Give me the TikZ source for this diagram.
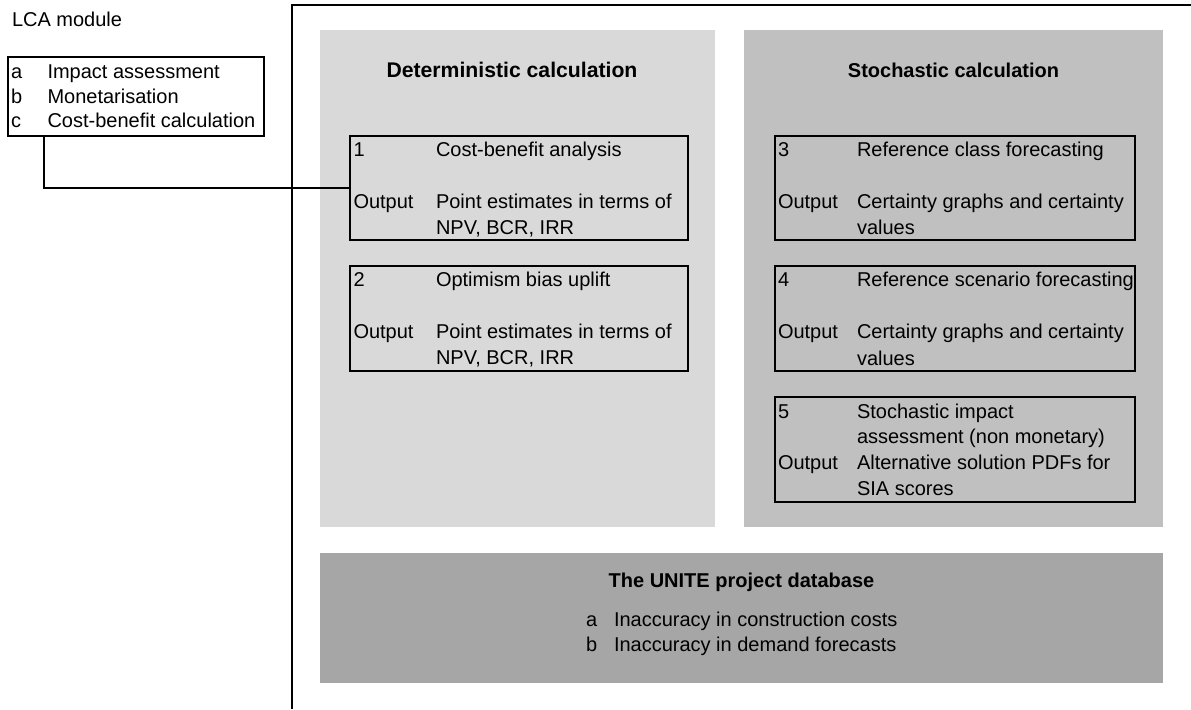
\documentclass[tikz,border=0pt]{standalone}
\usepackage{fontspec}
\setmainfont{Liberation Sans}
\usetikzlibrary{calc}
\definecolor{detfill}{HTML}{D9D9D9}
\definecolor{stofill}{HTML}{C0C0C0}
\definecolor{dbfill}{HTML}{A6A6A6}
\begin{document}
\begin{tikzpicture}[x=0.5pt,y=-0.5pt,
  font=\fontsize{10pt}{12pt}\selectfont,
  panel/.style={draw=none, inner sep=0pt, outer sep=0pt},
  stepbox/.style={draw=black, line width=1pt, inner sep=0pt, outer sep=0pt},
  txt/.style={anchor=base west, inner sep=0pt, outer sep=0pt},
  ttl/.style={anchor=base, inner sep=0pt, outer sep=0pt, font=\fontsize{10pt}{12pt}\selectfont\bfseries},
  conn/.style={line width=1pt}]
\useasboundingbox (0,0) rectangle (1191,709);
\fill[white] (0,0) rectangle (1191,709);

% panels
\node[panel, fill=detfill, minimum width=197.5pt, minimum height=248.5pt] (det) at (517.5,278.5) {};
\node[panel, fill=stofill, minimum width=209.5pt, minimum height=248.5pt] (sto) at (953.5,278.5) {};
\node[panel, fill=dbfill, minimum width=421.5pt, minimum height=65pt] (db) at (741.5,618) {};

% frame
\coordinate (fb) at (292,709);
\coordinate (fc) at (292,5);
\coordinate (fr) at (1191,5);
\draw[conn] (fb) -- (fc) -- (fr);

% LCA module
\node[txt] (lcat) at (12,26.5) {LCA module};
\node[stepbox, minimum width=128pt, minimum height=39.5pt] (lca) at (136,96.5) {};
\node[txt] (la) at (11,78.5) {a};
\node[txt] (lat) at (47.5,78.5) {Impact assessment};
\node[txt] (lb) at (11,103) {b};
\node[txt] (lbt) at (47.5,103) {Monetarisation};
\node[txt] (lc) at (11,127.5) {c};
\node[txt] (lct) at (47.5,127.5) {Cost-benefit calculation};

% titles
\node[ttl, font=\fontsize{10.6pt}{12pt}\selectfont\bfseries] (dett) at (512,77.3) {Deterministic calculation};
\node[ttl] (stot) at (953.5,77.3) {Stochastic calculation};

% box 1
\node[stepbox, minimum width=169pt, minimum height=52pt] (b1) at (519,187.7) {};
\node[txt] (b1n) at (353.5,156.2) {1};
\node[txt] (b1a) at (436,156.2) {Cost-benefit analysis};
\node[txt] (b1o) at (353.5,208.2) {Output};
\node[txt] (b1b) at (436,208.2) {Point estimates in terms of};
\node[txt] (b1c) at (436,234.7) {NPV, BCR, IRR};

% box 2
\node[stepbox, minimum width=169pt, minimum height=52.5pt] (b2) at (519,318.2) {};
\node[txt] (b2n) at (353.5,286.2) {2};
\node[txt] (b2a) at (436,286.2) {Optimism bias uplift};
\node[txt] (b2o) at (353.5,338.2) {Output};
\node[txt] (b2b) at (436,338.2) {Point estimates in terms of};
\node[txt] (b2c) at (436,364.7) {NPV, BCR, IRR};

% box 3
\node[stepbox, minimum width=180pt, minimum height=52pt] (b3) at (954.5,187.8) {};
\node[txt] (b3n) at (778,156.3) {3};
\node[txt] (b3a) at (857,156.3) {Reference class forecasting};
\node[txt] (b3o) at (778,208.3) {Output};
\node[txt] (b3b) at (857,208.3) {Certainty graphs and certainty};
\node[txt] (b3c) at (857,234.8) {values};

% box 4
\node[stepbox, minimum width=180pt, minimum height=52.5pt] (b4) at (954.5,318.2) {};
\node[txt] (b4n) at (778,286.7) {4};
\node[txt] (b4a) at (857,286.7) {Reference scenario forecasting};
\node[txt] (b4o) at (778,338.7) {Output};
\node[txt] (b4b) at (857,338.7) {Certainty graphs and certainty};
\node[txt] (b4c) at (857,365.2) {values};

% box 5
\node[stepbox, minimum width=180pt, minimum height=52.5pt] (b5) at (954.5,449.5) {};
\node[txt] (b5n) at (778,418) {5};
\node[txt] (b5a) at (857,418) {Stochastic impact};
\node[txt] (b5b) at (857,443.5) {assessment (non monetary)};
\node[txt] (b5o) at (778,469) {Output};
\node[txt] (b5c) at (857,469) {Alternative solution PDFs for};
\node[txt] (b5d) at (857,495) {SIA scores};

% database
\node[ttl] (dbt) at (741.5,587) {The UNITE project database};
\node[txt] (dba) at (586,626) {a};
\node[txt] (dbat) at (614,626) {Inaccuracy in construction costs};
\node[txt] (dbb) at (586,651.5) {b};
\node[txt] (dbbt) at (614,651.5) {Inaccuracy in demand forecasts};

% connector
\draw[conn] ([xshift=18pt]lca.south west) |- (b1.west);
\end{tikzpicture}
\end{document}
